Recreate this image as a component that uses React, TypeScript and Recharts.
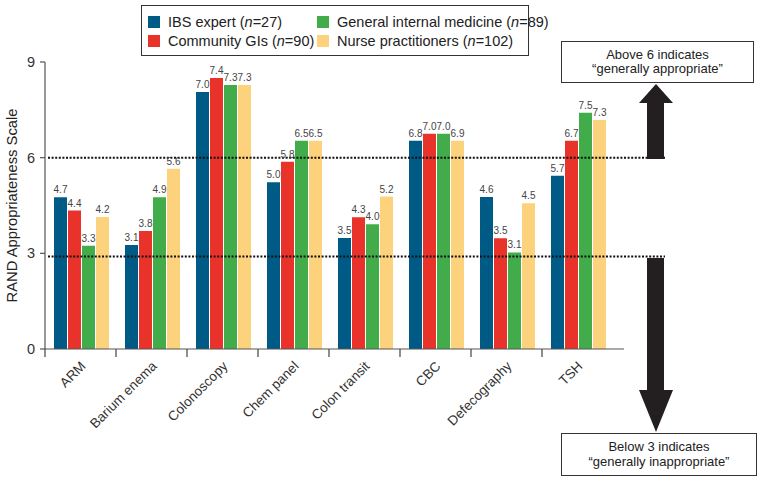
import React from "react"
import { BarChart, Bar, XAxis, YAxis, ReferenceLine, LabelList } from "recharts"

const categories = ["ARM", "Barium enema", "Colonoscopy", "Chem panel", "Colon transit", "CBC", "Defecography", "TSH"]

// bar heights as drawn in the figure
const ibsExpert = [4.76, 3.26, 8.06, 5.23, 3.48, 6.53, 4.77, 5.43]
const communityGI = [4.34, 3.7, 8.5, 5.87, 4.13, 6.75, 3.47, 6.53]
const generalMedicine = [3.24, 4.76, 8.28, 6.53, 3.91, 6.75, 3.03, 7.41]
const nursePractitioners = [4.14, 5.65, 8.28, 6.53, 4.78, 6.53, 4.57, 7.18]

// printed value labels
const ibsLabels = ["4.7", "3.1", "7.0", "5.0", "3.5", "6.8", "4.6", "5.7"]
const communityLabels = ["4.4", "3.8", "7.4", "5.8", "4.3", "7.0", "3.5", "6.7"]
const generalLabels = ["3.3", "4.9", "7.3", "6.5", "4.0", "7.0", "3.1", "7.5"]
const nurseLabels = ["4.2", "5.6", "7.3", "6.5", "5.2", "6.9", "4.5", "7.3"]

const yTicks = [0, 3, 6, 9]

const series = [
  { key: "ibs", name: "IBS expert", n: 27, color: "#005a86", values: ibsExpert, labels: ibsLabels },
  { key: "community", name: "Community GIs", n: 90, color: "#e8322a", values: communityGI, labels: communityLabels },
  { key: "general", name: "General internal medicine", n: 89, color: "#42ac4a", values: generalMedicine, labels: generalLabels },
  { key: "nurse", name: "Nurse practitioners", n: 102, color: "#fdd27c", values: nursePractitioners, labels: nurseLabels },
]

const data = categories.map((name, i) => {
  const row: Record<string, string | number> = { name }
  series.forEach((s) => {
    row[s.key] = s.values[i]
  })
  return row
})

const FONT = "'Liberation Sans', Arial, Helvetica, sans-serif"

function CategoryTick(props: any) {
  const { x, y, payload } = props
  const half = payload && payload.offset ? payload.offset : 35.5
  return (
    <g>
      <line x1={x - half} y1={y} x2={x - half} y2={y + 8} stroke="#444" strokeWidth={1.2} />
      <text
        x={x + 6}
        y={y + 18}
        textAnchor="end"
        fontSize={13.5}
        fill="#333"
        fontFamily={FONT}
        transform={`rotate(-45 ${x + 6} ${y + 18})`}
      >
        {payload.value}
      </text>
    </g>
  )
}

function LegendBox() {
  const cols = [series.slice(0, 2), series.slice(2, 4)]
  return (
    <div
      style={{
        position: "absolute",
        left: 141,
        top: 5,
        border: "1.5px solid #333",
        width: 388,
        height: 51,
        boxSizing: "border-box",
        display: "flex",
        fontFamily: FONT,
        fontSize: 14.5,
        color: "#222",
        padding: "6px 0 0 6px",
        background: "#fff",
        whiteSpace: "nowrap",
      }}
    >
      {cols.map((col, ci) => (
        <div key={ci} style={{ width: ci === 0 ? 169 : 205 }}>
          {col.map((s) => (
            <div key={s.key} style={{ display: "flex", alignItems: "center", height: 19 }}>
              <span style={{ width: 12, height: 12, background: s.color, marginRight: 8, flex: "none" }} />
              <span>
                {s.name} (<i>n</i>={s.n})
              </span>
            </div>
          ))}
        </div>
      ))}
    </div>
  )
}

function DottedLine(props: any) {
  const { x1, y1, y2 } = props
  return <line x1={x1 + 3} y1={y1} x2={665} y2={y2} stroke="#111" strokeWidth={2} strokeDasharray="2 1.6" />
}

const noteBox: React.CSSProperties = {
  position: "absolute",
  border: "1.5px solid #333",
  boxSizing: "border-box",
  fontFamily: FONT,
  fontSize: 13,
  lineHeight: "14.5px",
  color: "#222",
  textAlign: "center",
  display: "flex",
  flexDirection: "column",
  justifyContent: "center",
  background: "#fff",
}

export default function App() {
  return (
    <div style={{ position: "absolute", left: 0, top: 0, width: 762, height: 482, background: "#fff" }}>
      <BarChart
        width={762}
        height={482}
        data={data}
        margin={{ top: 62, right: 138, left: 5, bottom: 53 }}
        barCategoryGap={9}
        barGap={1}
      >
        <XAxis
          dataKey="name"
          height={80}
          padding={{ left: 0, right: 11 }}
          axisLine={{ stroke: "#555", strokeWidth: 1.2 }}
          tickLine={false}
          tickSize={0}
          tickMargin={0}
          interval={0}
          tick={<CategoryTick />}
        />
        <YAxis
          width={40}
          domain={[0, 9]}
          ticks={yTicks}
          axisLine={{ stroke: "#555", strokeWidth: 1.2 }}
          tickLine={{ stroke: "#555", strokeWidth: 1.2 }}
          tickSize={5}
          tickMargin={5}
          tick={{ fontSize: 14.5, fill: "#333", fontFamily: FONT }}
          label={{
            value: "RAND Appropriateness Scale",
            angle: -90,
            position: "insideLeft",
            offset: 7,
            style: { textAnchor: "middle", fontSize: 14.8, fill: "#222", fontFamily: FONT },
          }}
        />
        {series.map((s) => (
          <Bar key={s.key} dataKey={s.key} name={s.name} fill={s.color} isAnimationActive={false}>
            <LabelList
              dataKey={s.key}
              position="top"
              offset={4}
              content={(p: any) => (
                <text
                  x={p.x + p.width / 2}
                  y={p.y - 4}
                  textAnchor="middle"
                  fontSize={10}
                  fill="#444"
                  fontFamily={FONT}
                >
                  {s.labels[p.index]}
                </text>
              )}
            />
          </Bar>
        ))}
        <ReferenceLine y={6} shape={<DottedLine />} />
        <ReferenceLine y={2.9} shape={<DottedLine />} />
      </BarChart>
      <LegendBox />
      <svg width={762} height={482} style={{ position: "absolute", left: 0, top: 0, pointerEvents: "none" }}>
        <polygon points="656,84 673,103 664,103 664,159 647,159 647,103 639,103" fill="#231f20" />
        <polygon points="647,258 664,258 664,390 673,390 656,432 639,390 647,390" fill="#231f20" />
      </svg>
      <div style={{ ...noteBox, left: 561, top: 41, width: 193, height: 42 }}>
        <div>Above 6 indicates</div>
        <div>“generally appropriate”</div>
      </div>
      <div style={{ ...noteBox, left: 561, top: 433, width: 196, height: 43 }}>
        <div>Below 3 indicates</div>
        <div>“generally inappropriate”</div>
      </div>
    </div>
  )
}
